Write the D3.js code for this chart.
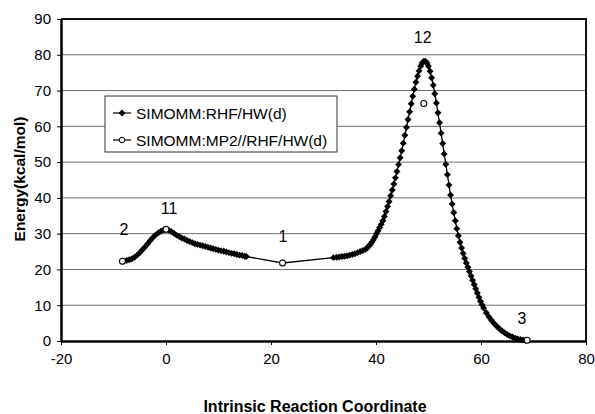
<!DOCTYPE html>
<html>
<head>
<meta charset="utf-8">
<script src="https://cdn.jsdelivr.net/npm/d3@7"></script>
<style>
	body { margin: 0; background: #fff; }
	svg text { font-family: "Liberation Sans", Arial, sans-serif; fill: #000; }
</style>
</head>
<body>
<div id="container"></div>
<script>

// SIMOMM:RHF/HW(d) IRC path  [coordinate, energy]
var rhfPoints = [
	[-8.3,22.3],[-7.5,22.5],[-7,22.7],[-6.5,23.0],[-6,23.4],[-5.5,24.0],[-5,24.7],[-4.5,25.5],
	[-4,26.3],[-3.5,27.2],[-3,28.1],[-2.5,28.9],[-2,29.6],[-1.5,30.2],[-1,30.7],[-0.5,31.0],[0,31.2],
	[0.5,31.0],[1,30.6],[1.5,30.1],[2,29.6],[2.5,29.2],[3,28.8],[3.5,28.5],[4,28.1],[4.5,27.8],
	[5,27.5],[5.5,27.2],[6,27.0],[6.5,26.8],[7,26.6],[7.5,26.4],[8,26.2],[8.5,26.0],[9,25.8],
	[9.5,25.6],[10,25.4],[10.5,25.2],[11,25.1],[11.5,24.9],[12,24.7],[12.5,24.5],[13,24.4],
	[13.5,24.2],[14,24.0],[14.5,23.9],[15,23.7],[15.3,23.6],
	[22.2,21.8],
	[31.9,23.3],[32.5,23.4],[33,23.5],[33.5,23.6],[34,23.7],[34.5,23.8],[35,24.0],[35.5,24.2],
	[36,24.4],[36.5,24.7],[37,25.0],[37.5,25.3],[38,25.6],[38.3,26.0],[38.6,26.5],[38.9,27.0],
	[39.2,27.6],[39.5,28.3],[39.8,29.1],[40.1,30.0],[40.4,30.8],[40.7,31.7],[41,32.6],[41.3,33.6],
	[41.6,34.8],[41.9,36.2],[42.2,37.6],[42.5,39.0],[42.8,40.6],[43.1,42.2],[43.4,43.9],[43.7,45.6],
	[44,47.4],[44.3,49.3],[44.6,51.2],[44.9,53.2],[45.2,55.3],[45.5,57.5],[45.8,59.7],[46.1,61.9],
	[46.4,64.1],[46.7,66.3],[47,68.4],[47.3,70.4],[47.6,72.3],[47.9,74.0],[48.2,75.5],[48.5,76.8],
	[48.8,77.7],[49.1,78.2],[49.4,78.2],[49.7,77.7],[50,76.8],[50.3,75.4],[50.6,73.6],[50.9,71.5],
	[51.2,69.1],[51.5,66.5],[51.8,63.8],[52.1,61.0],[52.4,58.1],[52.7,55.2],[53,52.3],[53.3,49.4],
	[53.6,46.5],[53.9,43.6],[54.2,40.8],[54.5,38.3],[54.8,35.9],[55.1,33.6],[55.4,31.4],[55.7,29.4],
	[56,27.6],[56.3,26.0],[56.6,24.5],[56.9,23.1],[57.2,21.8],[57.5,20.6],[57.8,19.4],[58.1,18.2],
	[58.4,17.0],[58.7,15.8],[59,14.6],[59.3,13.4],[59.6,12.2],[59.9,11.1],[60.2,10.1],[60.5,9.2],
	[61,7.9],[61.5,6.8],[62,5.8],[62.5,4.9],[63,4.1],[63.5,3.4],[64,2.8],[64.5,2.3],[65,1.8],
	[65.5,1.4],[66,1.1],[66.5,0.8],[67,0.6],[67.5,0.4],[68,0.3],[68.5,0.2]
];

// SIMOMM:MP2//RHF/HW(d) single points
var mp2Points = [[-8.3,22.3],[0,31.2],[22.2,21.8],[49.1,66.4],[68.8,0.2]];

// stationary point labels [text, coordinate, energy]
var pointLabels = [["2",-8,31.2],["11",0.6,37.1],["1",22.3,29.3],["12",48.9,84.9],["3",67.8,6.4]];

var xTicks = [-20,0,20,40,60,80];
var yTicks = [0,10,20,30,40,50,60,70,80,90];
var seriesNames = ["SIMOMM:RHF/HW(d)","SIMOMM:MP2//RHF/HW(d)"];

function render(){
	var width = 595, height = 414;
	var margin = {left:61, top:19, right:9, bottom:73};

	var svg = d3.select("#container")
		.append('svg')
		.attr("width",width)
		.attr('height',height);

	var x = d3.scaleLinear().domain([-20,80]).range([margin.left, width - margin.right]);
	var y = d3.scaleLinear().domain([0,90]).range([height - margin.bottom, margin.top]);

	//gridlines
	svg.append('g')
		.selectAll('line')
		.data(yTicks.slice(1, -1))
		.enter()
		.append('line')
		.attr('x1', x(-20)).attr('x2', x(80))
		.attr('y1', d => y(d)).attr('y2', d => y(d))
		.attr('stroke','#707070')
		.attr('stroke-width',1);

	//top + right frame
	svg.append('path')
		.attr('d', 'M' + x(-20) + ',' + y(90) + 'H' + x(80) + 'V' + y(0))
		.attr('fill','none')
		.attr('stroke','#111')
		.attr('stroke-width',2);

	var xAxis = svg.append('g')
		.attr('transform','translate(0,' + y(0) + ')')
		.call(d3.axisBottom(x).tickValues(xTicks).tickFormat(d => String(d))
			.tickSize(4).tickSizeOuter(0).tickPadding(8));
	xAxis.select('.domain').attr('stroke','#000').attr('stroke-width',2.5);
	xAxis.selectAll('text').style('font-size','15px');

	var yAxis = svg.append('g')
		.attr('transform','translate(' + x(-20) + ',0)')
		.call(d3.axisLeft(y).tickValues(yTicks).tickFormat(d => String(d))
			.tickSize(4).tickSizeOuter(0).tickPadding(6));
	yAxis.select('.domain').attr('stroke','#000').attr('stroke-width',2.5);
	yAxis.selectAll('text').style('font-size','15px');

	//titles
	svg.append('text')
		.attr('x', 315)
		.attr('y', 412)
		.attr('text-anchor','middle')
		.style('font-size','16px')
		.style('font-weight','bold')
		.text('Intrinsic Reaction Coordinate');

	svg.append('text')
		.attr('transform','translate(25,179) rotate(-90)')
		.attr('text-anchor','middle')
		.style('font-size','15.5px')
		.style('font-weight','bold')
		.text('Energy(kcal/mol)');

	//RHF curve
	var line = d3.line().x(d => x(d[0])).y(d => y(d[1]));
	svg.append('path')
		.datum(rhfPoints)
		.attr('d', line)
		.attr('fill','none')
		.attr('stroke','#000')
		.attr('stroke-width',1.3);

	var diamond = d3.symbol().type(d3.symbolSquare).size(24);
	svg.append('g')
		.selectAll('path')
		.data(rhfPoints)
		.enter()
		.append('path')
		.attr('d', diamond)
		.attr('transform', d => 'translate(' + x(d[0]) + ',' + y(d[1]) + ') rotate(45)')
		.attr('fill','#000');

	//MP2 points
	svg.append('g')
		.selectAll('circle')
		.data(mp2Points)
		.enter()
		.append('circle')
		.attr('cx', d => x(d[0]))
		.attr('cy', d => y(d[1]))
		.attr('r', 3)
		.attr('fill','#fff')
		.attr('stroke','#000')
		.attr('stroke-width',1.1);

	//labels
	svg.append('g')
		.selectAll('text')
		.data(pointLabels)
		.enter()
		.append('text')
		.attr('x', d => x(d[1]))
		.attr('y', d => y(d[2]))
		.attr('dy','0.36em')
		.attr('text-anchor','middle')
		.style('font-size','16px')
		.text(d => d[0]);

	//legend
	var lg = svg.append('g').attr('transform','translate(105,96)');
	lg.append('rect')
		.attr('width',232).attr('height',56)
		.attr('fill','#fff')
		.attr('stroke','#333')
		.attr('stroke-width',1);

	var items = lg.selectAll('.item')
		.data(seriesNames)
		.enter()
		.append('g')
		.attr('class','item')
		.attr('transform',(d,i) => 'translate(0,' + (17 + i*27) + ')');

	items.append('line')
		.attr('x1',8).attr('x2',26)
		.attr('stroke','#000').attr('stroke-width',1.2);

	items.filter((d,i) => i == 0).append('path')
		.attr('d', diamond)
		.attr('transform','translate(17,0) rotate(45)')
		.attr('fill','#000');

	items.filter((d,i) => i == 1).append('circle')
		.attr('cx',17).attr('r',2.8)
		.attr('fill','#fff').attr('stroke','#000');

	items.append('text')
		.attr('x',31)
		.attr('dy','0.36em')
		.style('font-size','15.5px')
		.text(d => d);
}

render();
</script>
</body>
</html>
